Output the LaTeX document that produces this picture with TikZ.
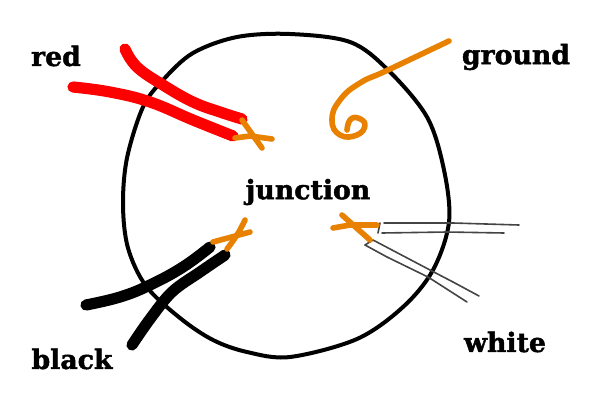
\documentclass[tikz,border=0pt]{standalone}
\usepackage{fontspec}
\setmainfont[BoldFeatures={FakeBold=1.6}]{DejaVu Serif}
\usepackage{xcolor}
\definecolor{colorWire}{HTML}{E88000}
\definecolor{colorThin}{HTML}{444444}
\usetikzlibrary{positioning}
\tikzset{
  label/.style={font=\fontsize{19}{22}\selectfont\bfseries, inner sep=0pt},
  box/.style={line width=1mm, black, line cap=round, line join=round},
  cable/.style={line width=2.8mm, line cap=round, line join=round},
  strand/.style={line width=1.4mm, colorWire, line cap=round, line join=round},
  thin wire/.style={line width=0.4mm, colorThin, line cap=round, line join=round}
}

\begin{document}
\begin{tikzpicture}[x=0.25mm, y=-0.25mm]
\useasboundingbox (0,0) rectangle (600,400);
% junction box
\draw[box] plot[smooth cycle, tension=0.55] coordinates {(193,53) (237,37) (290,34) (350,42) (388,70) (427,117) (444,170) (449,222) (433,270) (403,307) (357,339) (290,357) (247,352) (213,340) (180,318) (146,286) (128,248) (123,205) (127,158) (143,107) (163,80)};
% red
\draw[cable, red] plot[smooth, tension=0.7] coordinates {(125,49) (137,67) (163,85) (193,102) (220,112) (242,119)};
\draw[cable, red] plot[smooth, tension=0.7] coordinates {(73,87) (110,92) (150,102) (193,120) (233,136)};
\draw[strand] (242,120) -- (262,148);
\draw[strand] (235,138) -- (250,136) -- (272,139);
% ground
\draw[strand] plot[smooth, tension=0.8] coordinates {(449,41) (388,70) (360,83) (340,100) (332,120) (340,135) (357,135) (365,125) (358,118) (350,120) (347,130)};
% black
\draw[cable, black] plot[smooth, tension=0.7] coordinates {(86,305) (120,297) (150,285) (183,267) (210,247)};
\draw[cable, black] plot[smooth, tension=0.6] coordinates {(132,345) (150,319) (172,292) (200,272) (225,255)};
\draw[strand] (213,242) -- (250,232);
\draw[strand] plot[smooth, tension=0.7] coordinates {(227,249) (237,235) (245,220)};
% white
\draw[thin wire] (380,223) -- (378,233);
\draw[thin wire] (384,223) -- (453,223) -- (519,225);
\draw[thin wire] (382,233) -- (447,232) -- (504,233);
\draw[thin wire] (365,245) -- (373,240) -- (430,270) -- (453,282) -- (479,296);
\draw[thin wire] (365,245) -- (387,257) -- (428,277) -- (467,302);
\draw[strand] (370,240) -- (342,215);
\draw[strand] (377,225) -- (350,225) -- (333,228);
% labels
\node[label] (red) at (56,56) {red};
\node[label] (ground) at (516,57) {ground};
\node[label] (junction) at (308,192) {junction};
\node[label] (black) at (72,359) {black};
\node[label] (white) at (505,342) {white};
\end{tikzpicture}
\end{document}
